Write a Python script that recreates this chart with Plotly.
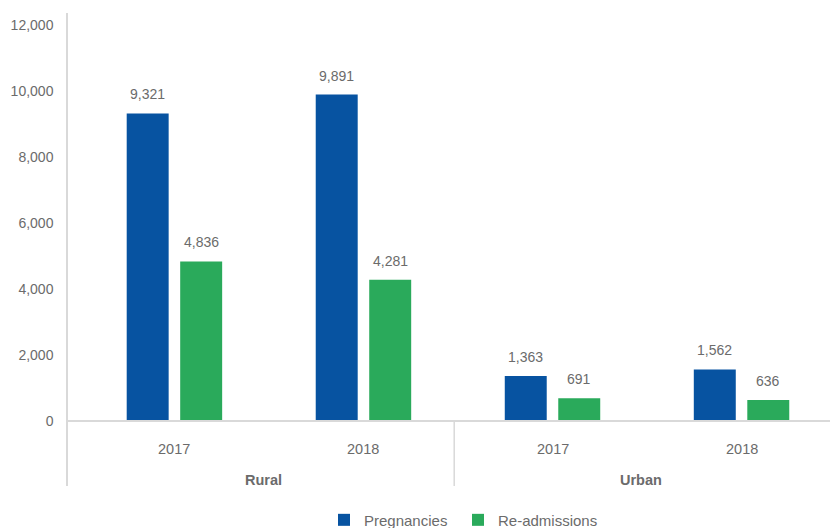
import plotly.graph_objects as go

# Data
areas = ["Rural", "Rural", "Urban", "Urban"]
years = ["2017", "2018", "2017", "2018"]
pregnancies = [9321, 9891, 1363, 1562]
readmissions = [4836, 4281, 691, 636]
y_ticks = [0, 2000, 4000, 6000, 8000, 10000, 12000]

BLUE = "#0753a1"
GREEN = "#2aaa5b"
TEXT = "#6b6b6b"
AXIS = "#d9d9d9"
FONT = "Liberation Sans, Arial, Helvetica, sans-serif"

pos = list(range(len(years)))
bar_w = 0.222
shift = 0.1415

fig = go.Figure()
fig.add_trace(go.Bar(
    x=[p - shift for p in pos], y=pregnancies, width=bar_w,
    name="Pregnancies", marker=dict(color=BLUE, line=dict(width=0)),
    legend="legend",
))
fig.add_trace(go.Bar(
    x=[p + shift for p in pos], y=readmissions, width=bar_w,
    name="Re-admissions", marker=dict(color=GREEN, line=dict(width=0)),
    legend="legend2",
))

annotations = []
# value labels above bars
for series, off in ((pregnancies, -shift), (readmissions, shift)):
    for p, v in zip(pos, series):
        annotations.append(dict(
            x=p + off, y=v, xref="x", yref="y", text=f"{v:,}",
            showarrow=False, yanchor="bottom", yshift=9,
            font=dict(family=FONT, size=14, color=TEXT),
        ))
# year labels
for p, yr in zip(pos, years):
    annotations.append(dict(
        x=p, y=0.0782, xref="x", yref="paper", text=yr, showarrow=False,
        yanchor="middle", font=dict(family=FONT, size=14.5, color=TEXT),
    ))
# area group labels
groups = {}
for p, a in zip(pos, areas):
    groups.setdefault(a, []).append(p)
for a, ps in groups.items():
    annotations.append(dict(
        x=sum(ps) / len(ps) - 0.03, y=0.0127, xref="x", yref="paper",
        text=f"<b>{a}</b>", showarrow=False, yanchor="middle",
        font=dict(family=FONT, size=14.5, color=TEXT),
    ))

shapes = [
    # zero baseline
    dict(type="line", xref="paper", yref="y", x0=0, x1=1, y0=0, y1=0,
         line=dict(color=AXIS, width=2)),
    # separator between area groups
    dict(type="line", xref="x", yref="paper", x0=1.48, x1=1.48, y0=0,
         y1=0.1374, line=dict(color=AXIS, width=1.5)),
]

legend_style = dict(
    orientation="h", xref="container", yref="container", xanchor="left",
    y=0.015, yanchor="middle", font=dict(family=FONT, size=15, color=TEXT),
    tracegroupgap=0,
)

fig.update_layout(
    width=830, height=528,
    margin=dict(l=68, r=0, t=13, b=42, autoexpand=False),
    paper_bgcolor="white", plot_bgcolor="white",
    barmode="overlay",
    font=dict(family=FONT, size=14, color=TEXT),
    xaxis=dict(range=[-0.563, 3.468], showgrid=False, zeroline=False,
               showticklabels=False, showline=False, fixedrange=True),
    yaxis=dict(range=[-1970, 12364], tickvals=y_ticks,
               ticktext=[f"{t:,}" for t in y_ticks],
               showgrid=False, zeroline=False, showline=True,
               linecolor=AXIS, linewidth=1.5, ticks="outside",
               ticklen=10, tickcolor="rgba(0,0,0,0)",
               tickfont=dict(family=FONT, size=14, color=TEXT)),
    legend=dict(x=324 / 830, **legend_style),
    legend2=dict(x=458 / 830, **legend_style),
    showlegend=True,
    annotations=annotations,
    shapes=shapes,
)

fig.write_html("out.html")
